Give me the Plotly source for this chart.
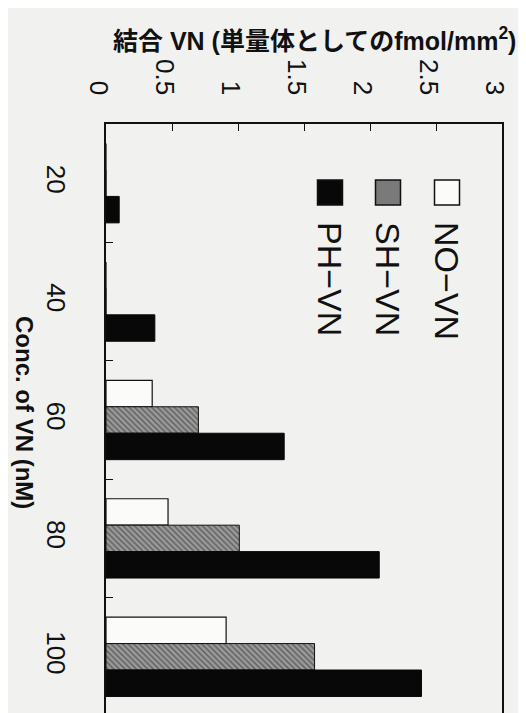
import plotly.graph_objects as go

conc = ["20", "40", "60", "80", "100"]
no_vn = [0, 0, 0.35, 0.47, 0.91]
sh_vn = [0, 0, 0.70, 1.01, 1.58]
ph_vn = [0.10, 0.37, 1.35, 2.07, 2.39]
val_ticks = [0, 0.5, 1, 1.5, 2, 2.5, 3]
val_ticktext = ["0", "0.5", "1", "1.5", "2", "2.5", "3"]
legend_names = ["NO\u2212VN", "SH\u2212VN", "PH\u2212VN"]

W, H = 526, 713
L, R, T, B = 98, 32, 116, 5
PW, PH = W - L - R, H - T - B

def px(x):
    return (x - L) / PW

def py(y):
    return (H - B - y) / PH

BG = "#f1f1ef"
FONT = "Arial, Liberation Sans, Noto Sans CJK JP"

fig = go.Figure()
fig.add_trace(go.Bar(y=conc, x=no_vn, orientation="h", name=legend_names[0],
                     marker=dict(color="#fbfbfa", line=dict(color="#111", width=1.2))))
fig.add_trace(go.Bar(y=conc, x=sh_vn, orientation="h", name=legend_names[1],
                     marker=dict(color="#8c8c8c", line=dict(color="#111", width=1),
                                 pattern=dict(shape="\\", fgcolor="#1e1e1e", bgcolor="#9a9a9a",
                                              size=4, solidity=0.35))))
fig.add_trace(go.Bar(y=conc, x=ph_vn, orientation="h", name=legend_names[2],
                     marker=dict(color="#080808", line=dict(color="#080808", width=1))))

fig.update_layout(
    width=W, height=H,
    margin=dict(l=L, r=R, t=T, b=B),
    paper_bgcolor=BG, plot_bgcolor=BG,
    barmode="group", bargap=0.33, bargroupgap=0,
    showlegend=False,
    font=dict(family=FONT, color="#111"),
)
fig.update_xaxes(
    automargin=False,
    side="top", range=[0, 3], tickvals=val_ticks, ticktext=val_ticktext,
    tickangle=90, ticks="inside", ticklen=7, tickwidth=1.2, tickcolor="#111",
    showgrid=False, zeroline=False, showline=True, mirror=True,
    linecolor="#111", linewidth=1.6, tickfont=dict(size=26, family=FONT),
    ticklabelstandoff=18, ticklabelshift=-8,
)
fig.update_yaxes(
    automargin=False,
    range=[4.5, -0.5], tickangle=90, tickson="boundaries",
    ticks="inside", ticklen=7, tickwidth=1.2, tickcolor="#111",
    showgrid=False, zeroline=False, showline=True, mirror=True,
    linecolor="#111", linewidth=1.6, tickfont=dict(size=26, family=FONT),
    ticklabelstandoff=26,
)

# axis titles
fig.add_annotation(text="<b>結合 VN (単量体としてのfmol/mm<sup>2</sup>)</b>",
                   xref="paper", yref="paper", x=px(306), y=py(31),
                   xanchor="center", yanchor="middle", showarrow=False,
                   font=dict(size=25, family=FONT, color="#111"))
fig.add_annotation(text="<b>Conc. of VN (nM)</b>", textangle=90,
                   xref="paper", yref="paper", x=px(17), y=py(404),
                   xanchor="center", yanchor="middle", showarrow=False,
                   font=dict(size=24, family=FONT, color="#111"))

# legend (rotated like the rest of the figure)
leg_x = [439, 380, 322]
leg_fill = ["#fbfbfa", "#7a7a7a", "#080808"]
for name, cx, fc in zip(legend_names, leg_x, leg_fill):
    fig.add_shape(type="rect", xref="paper", yref="paper",
                  x0=px(cx - 12.5), x1=px(cx + 12.5), y0=py(197), y1=py(172),
                  fillcolor=fc, line=dict(color="#111", width=1.5))
    fig.add_annotation(text=name, textangle=90, xref="paper", yref="paper",
                       x=px(cx), y=py(212), xanchor="center", yanchor="top",
                       showarrow=False, font=dict(size=34, family=FONT, color="#111"))

fig.write_html("out.html")
